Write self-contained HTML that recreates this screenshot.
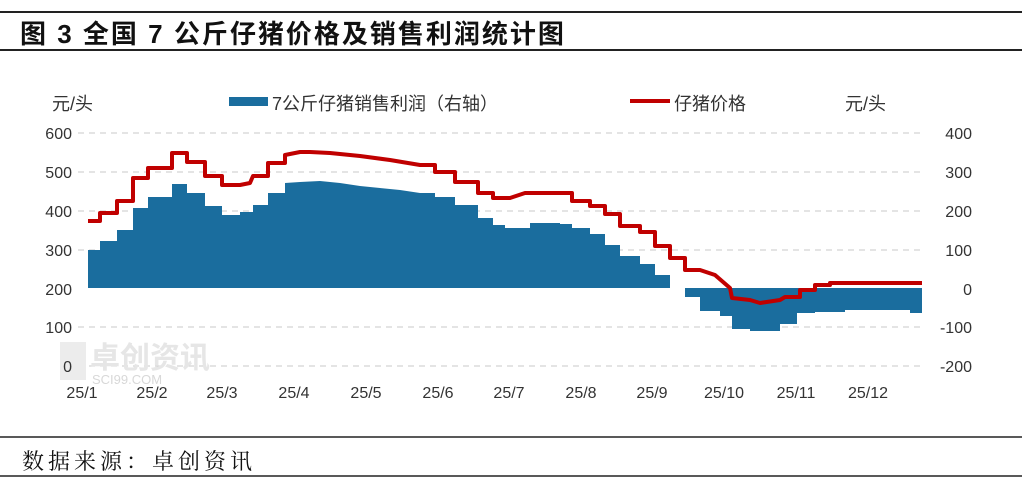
<!DOCTYPE html>
<html><head><meta charset="utf-8"><style>
body{margin:0;background:#fff;width:1022px;height:483px;overflow:hidden}
svg{display:block}
</style></head><body>
<svg width="1022" height="483" xmlns="http://www.w3.org/2000/svg" font-family="Liberation Sans, Noto Sans CJK SC, sans-serif">
<line x1="0" y1="12" x2="1022" y2="12" stroke="#222" stroke-width="2"/>
<text x="20" y="43" font-size="26" font-weight="bold" fill="#111" letter-spacing="2" font-family="Liberation Sans, Noto Sans CJK SC, sans-serif">图 3 全国 7 公斤仔猪价格及销售利润统计图</text>
<line x1="0" y1="50" x2="1022" y2="50" stroke="#222" stroke-width="2"/>
<g stroke="#c8c8c8" stroke-dasharray="6,5" stroke-width="1">
<line x1="78" y1="133" x2="925" y2="133"/><line x1="78" y1="172" x2="925" y2="172"/>
<line x1="78" y1="211" x2="925" y2="211"/><line x1="78" y1="250" x2="925" y2="250"/>
<line x1="78" y1="327" x2="925" y2="327"/><line x1="78" y1="366" x2="925" y2="366"/>
</g>
<g font-size="30" fill="#e6e6e6" font-weight="bold"><text x="90" y="368">卓创资讯</text></g>
<text x="92" y="384" font-size="13" fill="#d8d8d8">SCI99.COM</text>
<rect x="60" y="342" width="26" height="38" fill="#ececec"/>
<polygon fill="#1a6d9e" points="88,288 88,250 100,250 100,241 117,241 117,230 133,230 133,208 148,208 148,197 172,197 172,184 187,184 187,193 205,193 205,206 222,206 222,215 240,215 240,212 253,212 253,205 268,205 268,193 285,193 285,183 300,182 320,181 340,183 360,186 380,188 400,190 420,193 435,193 435,197 455,197 455,205 478,205 478,218 493,218 493,225 505,225 505,228 530,228 530,223 560,223 560,224 572,224 572,228 590,228 590,234 605,234 605,245 620,245 620,256 640,256 640,264 655,264 655,275 670,275 670,288 685,288 685,289 685,297 700,297 700,311 720,311 720,316 732,316 732,329 750,329 750,331 780,331 780,324 797,324 797,313 815,313 815,312 845,312 845,310 910,310 910,313 922,313 922,288"/>
<polyline fill="none" stroke="#c00000" stroke-width="4" stroke-linejoin="round" points="88,221 100,221 100,213 117,213 117,201 133,201 133,178 148,178 148,168 172,168 172,153 187,153 187,162 205,162 205,176 222,176 222,185 240,185 250,183 253,176 268,176 268,163 285,163 285,155 300,152 310,152 330,153 360,156 390,160 420,165 435,165 435,172 455,172 455,182 478,182 478,193 493,193 493,198 510,198 525,193 572,193 572,201 590,201 590,206 605,206 605,214 620,214 620,226 640,226 640,232 655,232 655,246 670,246 670,258 685,258 685,270 700,270 715,275 730,288 732,298 750,300 760,303 780,300 785,297 800,297 800,290 815,290 815,285 830,285 830,283 922,283"/>
<g font-size="16" fill="#333" text-anchor="end">
<text x="72" y="139">600</text><text x="72" y="178">500</text><text x="72" y="217">400</text><text x="72" y="256">300</text><text x="72" y="295">200</text><text x="72" y="333">100</text><text x="72" y="372">0</text>
</g>
<g font-size="16" fill="#333" text-anchor="end">
<text x="972" y="139">400</text><text x="972" y="178">300</text><text x="972" y="217">200</text><text x="972" y="256">100</text><text x="972" y="295">0</text><text x="972" y="333">-100</text><text x="972" y="372">-200</text>
</g>
<g font-size="16" fill="#333" text-anchor="middle">
<text x="82" y="398">25/1</text><text x="152" y="398">25/2</text><text x="222" y="398">25/3</text><text x="294" y="398">25/4</text><text x="366" y="398">25/5</text><text x="438" y="398">25/6</text><text x="509" y="398">25/7</text><text x="581" y="398">25/8</text><text x="652" y="398">25/9</text><text x="724" y="398">25/10</text><text x="796" y="398">25/11</text><text x="868" y="398">25/12</text>
</g>
<text x="52" y="110" font-size="18" fill="#333">元/头</text>
<text x="845" y="110" font-size="18" fill="#333">元/头</text>
<rect x="229" y="97" width="39" height="9" fill="#1a6d9e"/>
<text x="272" y="110" font-size="18" fill="#333">7公斤仔猪销售利润（右轴）</text>
<line x1="630" y1="101" x2="670" y2="101" stroke="#c00000" stroke-width="4"/>
<text x="674" y="110" font-size="18" fill="#333">仔猪价格</text>
<line x1="0" y1="437" x2="1022" y2="437" stroke="#222" stroke-width="1.5"/>
<text x="22" y="469" font-size="22" fill="#111" letter-spacing="4" font-family="Liberation Serif, Noto Serif CJK SC, serif">数据来源：卓创资讯</text>
<line x1="0" y1="476" x2="1022" y2="476" stroke="#222" stroke-width="1.5"/>
</svg>
</body></html>
